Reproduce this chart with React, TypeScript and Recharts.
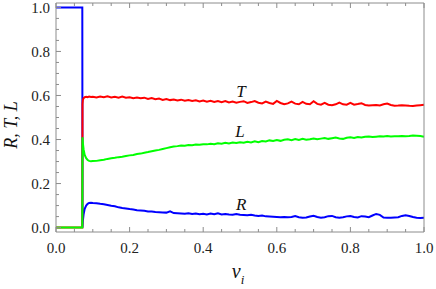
import { LineChart, Line, XAxis, YAxis, ReferenceDot } from "recharts";

const FONT = "'Times New Roman', 'Liberation Serif', 'DejaVu Serif', serif";
const FRAME = "#8c8c8c";

// x positions (v_i)
const xs = [
  0, 0.0715, 0.072, 0.073, 0.075, 0.078, 0.082, 0.086, 0.09, 0.095,
  0.1, 0.11, 0.12, 0.13, 0.14, 0.15, 0.16, 0.17, 0.18, 0.19,
  0.2, 0.21, 0.22, 0.23, 0.24, 0.25, 0.26, 0.27, 0.28, 0.29,
  0.3, 0.31, 0.32, 0.33, 0.34, 0.35, 0.36, 0.37, 0.38, 0.39,
  0.4, 0.41, 0.42, 0.43, 0.44, 0.45, 0.46, 0.47, 0.48, 0.49,
  0.5, 0.51, 0.52, 0.53, 0.54, 0.55, 0.56, 0.57, 0.58, 0.59,
  0.6, 0.61, 0.62, 0.63, 0.64, 0.65, 0.66, 0.67, 0.68, 0.69,
  0.7, 0.71, 0.72, 0.73, 0.74, 0.75, 0.76, 0.77, 0.78, 0.79,
  0.8, 0.81, 0.82, 0.83, 0.84, 0.85, 0.86, 0.87, 0.88, 0.89,
  0.9, 0.91, 0.92, 0.93, 0.94, 0.95, 0.96, 0.97, 0.98, 0.99,
  1.0,
];

const R = [
  1, 1, 0.0, 0.03, 0.06, 0.085, 0.1, 0.108, 0.112, 0.113,
  0.112, 0.111, 0.108, 0.106, 0.103, 0.099, 0.097, 0.092, 0.089, 0.087,
  0.084, 0.082, 0.079, 0.078, 0.076, 0.073, 0.073, 0.071, 0.07, 0.069,
  0.068, 0.074, 0.066, 0.065, 0.064, 0.063, 0.065, 0.062, 0.064, 0.061,
  0.063, 0.06, 0.064, 0.061, 0.065, 0.06, 0.062, 0.059, 0.058, 0.062,
  0.058, 0.057, 0.056, 0.058, 0.055, 0.053, 0.055, 0.051, 0.05, 0.049,
  0.048, 0.047, 0.048, 0.047, 0.048, 0.052, 0.047, 0.045, 0.046, 0.05,
  0.054, 0.048, 0.045, 0.047, 0.052, 0.053, 0.047, 0.045, 0.047, 0.051,
  0.053, 0.048, 0.046, 0.052, 0.05, 0.047, 0.055, 0.062, 0.058, 0.046,
  0.045, 0.045, 0.046, 0.047, 0.053, 0.056, 0.053, 0.048, 0.045, 0.044,
  0.045,
];

const T = [
  0, 0, 0.56, 0.58, 0.588, 0.592, 0.594, 0.592, 0.595, 0.593,
  0.594, 0.591, 0.595, 0.592, 0.596, 0.591, 0.594, 0.59, 0.595, 0.59,
  0.592, 0.588, 0.591, 0.587, 0.59, 0.584, 0.588, 0.583, 0.586, 0.58,
  0.584, 0.579, 0.582, 0.577, 0.581, 0.576, 0.579, 0.575, 0.578, 0.573,
  0.577, 0.572, 0.576, 0.571, 0.575, 0.57, 0.575, 0.568, 0.572, 0.567,
  0.571, 0.574, 0.566, 0.57, 0.575, 0.567, 0.564, 0.572, 0.566, 0.562,
  0.575, 0.566, 0.56, 0.564, 0.572, 0.563, 0.56, 0.571, 0.562, 0.56,
  0.574, 0.562, 0.558, 0.566, 0.558, 0.556, 0.56, 0.568, 0.56, 0.558,
  0.566, 0.558, 0.561, 0.565, 0.557, 0.555, 0.556, 0.557, 0.555, 0.56,
  0.563, 0.557, 0.553, 0.554, 0.556, 0.555, 0.553, 0.552, 0.554, 0.556,
  0.558,
];

const L = [
  0, 0, 0.41, 0.385, 0.355, 0.33, 0.315, 0.307, 0.303, 0.301,
  0.302, 0.303, 0.306, 0.308, 0.312, 0.315, 0.317, 0.32, 0.322, 0.325,
  0.328, 0.33, 0.334, 0.336, 0.34, 0.343, 0.347, 0.35, 0.353, 0.357,
  0.361, 0.365, 0.368, 0.37, 0.373, 0.372, 0.375, 0.374, 0.377, 0.376,
  0.379, 0.378, 0.381, 0.379, 0.383, 0.381, 0.385, 0.382, 0.386, 0.384,
  0.388, 0.385, 0.39, 0.387, 0.392, 0.388, 0.393, 0.391, 0.396, 0.393,
  0.398, 0.394, 0.399, 0.401, 0.397, 0.402, 0.398, 0.403, 0.399, 0.401,
  0.405, 0.401, 0.404, 0.407, 0.403, 0.406, 0.409, 0.405, 0.403, 0.408,
  0.41, 0.407, 0.411, 0.409, 0.413, 0.414, 0.411, 0.413, 0.415, 0.414,
  0.416, 0.414, 0.415, 0.415, 0.416, 0.415, 0.416, 0.418, 0.417, 0.416,
  0.413,
];

const majorTicks = [0, 0.2, 0.4, 0.6, 0.8, 1.0];
const allTicks = [
  0, 0.05, 0.1, 0.15, 0.2, 0.25, 0.3, 0.35, 0.4, 0.45, 0.5,
  0.55, 0.6, 0.65, 0.7, 0.75, 0.8, 0.85, 0.9, 0.95, 1.0,
];

const data = xs.map((x, i) => ({ x, R: R[i], T: T[i], L: L[i] }));

const isMajor = (v: number) => majorTicks.some((m) => Math.abs(m - v) < 1e-6);

const labelStyle = { fontFamily: FONT, fontSize: 15 };

function makeTick(side: "bottom" | "top" | "left" | "right") {
  return (props: any) => {
    const { x, y, payload } = props;
    const v = payload.value;
    const len = isMajor(v) ? 5 : 3;
    let line;
    if (side === "bottom") line = <line x1={x} y1={y} x2={x} y2={y - len} />;
    else if (side === "top") line = <line x1={x} y1={y} x2={x} y2={y + len} />;
    else if (side === "left") line = <line x1={x} y1={y} x2={x + len} y2={y} />;
    else line = <line x1={x} y1={y} x2={x - len} y2={y} />;

    return (
      <g stroke={FRAME} strokeWidth={1}>
        {line}
        {isMajor(v) && side === "bottom" && (
          <text x={x} y={y + 21} textAnchor="middle" fill="#222" stroke="none" style={labelStyle}>
            {v.toFixed(1)}
          </text>
        )}
        {isMajor(v) && side === "left" && (
          <text x={x - 6} y={y + 5.5} textAnchor="end" fill="#222" stroke="none" style={labelStyle}>
            {v.toFixed(1)}
          </text>
        )}
      </g>
    );
  };
}

const curveLabel = (value: string) => ({
  value,
  position: "center" as const,
  fill: "#111",
  style: { fontFamily: FONT, fontSize: 17, fontStyle: "italic" },
});

export default function App() {
  return (
    <div style={{ position: "absolute", left: 0, top: 0, width: 436, height: 289, background: "#fff", fontFamily: FONT }}>
      <LineChart width={436} height={289} data={data}
        margin={{ top: 2, right: 11, bottom: 56, left: 55 }}>
        <XAxis xAxisId="x" dataKey="x" type="number" domain={[0, 1]} ticks={allTicks}
          interval={0} height={1} tickSize={0} tickMargin={0} tickLine={false}
          axisLine={{ stroke: FRAME }} tick={makeTick("bottom")} />
        <XAxis xAxisId="xt" orientation="top" dataKey="x" type="number" domain={[0, 1]}
          ticks={allTicks} interval={0} height={1} tickSize={0} tickMargin={0} tickLine={false}
          axisLine={{ stroke: FRAME }} tick={makeTick("top")} />
        <YAxis yAxisId="y" type="number" domain={[-0.02, 1.02]} ticks={allTicks}
          interval={0} width={1} tickSize={0} tickMargin={0} tickLine={false}
          axisLine={{ stroke: FRAME }} tick={makeTick("left")} />
        <YAxis yAxisId="yr" orientation="right" type="number" domain={[-0.02, 1.02]}
          ticks={allTicks} interval={0} width={1} tickSize={0} tickMargin={0} tickLine={false}
          axisLine={{ stroke: FRAME }} tick={makeTick("right")} />

        <Line xAxisId="x" yAxisId="y" dataKey="R" type="linear" stroke="#0000ff"
          strokeWidth={2} dot={false} isAnimationActive={false} />
        <Line xAxisId="x" yAxisId="y" dataKey="T" type="linear" stroke="#ff0000"
          strokeWidth={2} dot={false} isAnimationActive={false} />
        <Line xAxisId="x" yAxisId="y" dataKey="L" type="linear" stroke="#00ff00"
          strokeWidth={2} dot={false} isAnimationActive={false} />

        <ReferenceDot xAxisId="x" yAxisId="y" x={0.503} y={0.62} r={0}
          fill="none" stroke="none" label={curveLabel("T")} />
        <ReferenceDot xAxisId="x" yAxisId="y" x={0.5} y={0.439} r={0}
          fill="none" stroke="none" label={curveLabel("L")} />
        <ReferenceDot xAxisId="x" yAxisId="y" x={0.503} y={0.107} r={0}
          fill="none" stroke="none" label={curveLabel("R")} />
      </LineChart>
      <svg width={436} height={289} style={{ position: "absolute", left: 0, top: 0, pointerEvents: "none" }}>
        <text transform="translate(17,125) rotate(-90)" textAnchor="middle" fill="#111"
          style={{ fontFamily: FONT, fontSize: 18, fontStyle: "italic" }}>
          R, T, L
        </text>
        <text x={238} y={278} textAnchor="middle" fill="#111"
          style={{ fontFamily: FONT, fontSize: 20, fontStyle: "italic" }}>
          v<tspan fontSize={13} dy={6}>i</tspan>
        </text>
      </svg>
    </div>
  );
}
